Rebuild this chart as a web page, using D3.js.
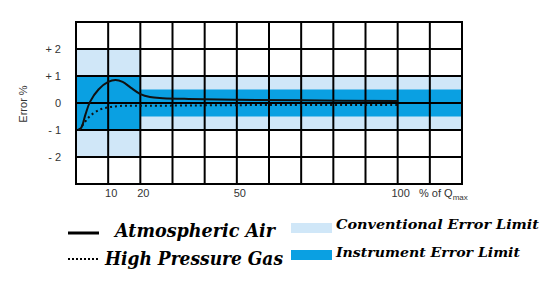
<!DOCTYPE html>
<html><head><meta charset="utf-8">
<script src="https://cdn.jsdelivr.net/npm/d3@7"></script>
<style>body{margin:0;background:#fff}svg{display:block}</style>
</head><body>
<svg id="c" width="550" height="288"></svg>
<script>
const xTicks = [10, 20, 50, 100];
const yTicks = [2, 1, 0, -1, -2];
const yTickLabels = ["+ 2", "+ 1", "0", "- 1", "- 2"];
const airX = [0.5, 1.6, 3, 4.4, 7, 10, 12.3, 14.5, 17, 20, 23, 27, 35, 50, 70, 100];
const airY = [-1, -0.92, -0.4, 0.05, 0.5, 0.78, 0.85, 0.78, 0.57, 0.33, 0.22, 0.18, 0.15, 0.12, 0.1, 0.07];
const gasX = [1, 2.8, 4.4, 7.5, 10.6, 13.7, 18, 25, 50, 100];
const gasY = [-1, -0.7, -0.48, -0.24, -0.15, -0.11, -0.1, -0.1, -0.08, -0.07];
// bands: [x0, x1, half-width]
const convBands = [[0, 20, 2], [20, 120, 1]];
const instBands = [[0, 20, 1], [20, 120, 0.5]];
const legendLines = ["Atmospheric Air", "High Pressure Gas"];
const legendBands = ["Conventional Error Limit", "Instrument Error Limit"];

const svg = d3.select("#c");
const x = d3.scaleLinear().domain([0, 120]).range([76, 462]);
const y = d3.scaleLinear().domain([-3, 3]).range([184, 22]);
const light = "#d0e7f8", dark = "#0aa0e2";

svg.selectAll("rect.conv").data(convBands).enter().append("rect")
  .attr("x", d => x(d[0])).attr("width", d => x(d[1]) - x(d[0]))
  .attr("y", d => y(d[2])).attr("height", d => y(-d[2]) - y(d[2])).attr("fill", light);
svg.selectAll("rect.inst").data(instBands).enter().append("rect")
  .attr("x", d => x(d[0])).attr("width", d => x(d[1]) - x(d[0]))
  .attr("y", d => y(d[2])).attr("height", d => y(-d[2]) - y(d[2])).attr("fill", dark);

// grid
const g = svg.append("g").attr("stroke", "#000").attr("stroke-width", 2);
g.selectAll("line.v").data(d3.range(0, 121, 10)).enter().append("line")
  .attr("x1", d => x(d)).attr("x2", d => x(d)).attr("y1", y(3)).attr("y2", y(-3));
g.selectAll("line.h").data(d3.range(-3, 4, 1)).enter().append("line")
  .attr("y1", d => y(d)).attr("y2", d => y(d)).attr("x1", x(0) - 1).attr("x2", x(120) + 1);

const line = d3.line().x(d => x(d[0])).y(d => y(d[1])).curve(d3.curveCatmullRom.alpha(0.5));
svg.append("path").datum(airX.map((v, i) => [v, airY[i]])).attr("d", line)
  .attr("fill", "none").attr("stroke", "#111").attr("stroke-width", 2);
svg.append("path").datum(gasX.map((v, i) => [v, gasY[i]])).attr("d", line)
  .attr("fill", "none").attr("stroke", "#111").attr("stroke-width", 2).attr("stroke-dasharray", "2,3");

// axis labels
svg.selectAll("text.yt").data(yTicks).enter().append("text")
  .attr("x", 61).attr("y", d => y(d) + 4).attr("text-anchor", "end")
  .attr("font-family", "Arial, Liberation Sans, sans-serif").attr("font-size", 11).attr("fill", "#333")
  .text((d, i) => yTickLabels[i]);
svg.selectAll("text.xt").data(xTicks).enter().append("text")
  .attr("x", d => x(d) + 3).attr("y", 197).attr("text-anchor", "middle")
  .attr("font-family", "Arial, Liberation Sans, sans-serif").attr("font-size", 11).attr("fill", "#333")
  .text(d => d);
const q = svg.append("text").attr("x", 419).attr("y", 197)
  .attr("font-family", "Arial, Liberation Sans, sans-serif").attr("font-size", 11).attr("fill", "#333");
q.append("tspan").text("% of Q");
q.append("tspan").attr("dy", 3).attr("font-size", 8).text("max");
svg.append("text").attr("transform", "translate(27,104) rotate(-90)").attr("text-anchor", "middle")
  .attr("font-family", "Arial, Liberation Sans, sans-serif").attr("font-size", 11).attr("fill", "#333")
  .text("Error %");

// legend
svg.append("line").attr("x1", 68).attr("x2", 99).attr("y1", 233).attr("y2", 233)
  .attr("stroke", "#000").attr("stroke-width", 3);
svg.append("line").attr("x1", 68).attr("x2", 98).attr("y1", 259).attr("y2", 259)
  .attr("stroke", "#000").attr("stroke-width", 2).attr("stroke-dasharray", "2,2");
const lf = "DejaVu Serif, serif";
svg.append("text").attr("x", 115).attr("y", 237).attr("font-family", lf).attr("font-style", "italic")
  .attr("font-weight", "bold").attr("font-size", 18).attr("textLength", 160).attr("lengthAdjust", "spacingAndGlyphs")
  .text(legendLines[0]);
svg.append("text").attr("x", 105).attr("y", 265).attr("font-family", lf).attr("font-style", "italic")
  .attr("font-weight", "bold").attr("font-size", 18).attr("textLength", 178).attr("lengthAdjust", "spacingAndGlyphs")
  .text(legendLines[1]);
svg.append("rect").attr("x", 291).attr("y", 223).attr("width", 41).attr("height", 10).attr("fill", light);
svg.append("rect").attr("x", 291).attr("y", 250).attr("width", 41).attr("height", 10).attr("fill", dark);
svg.append("text").attr("x", 336).attr("y", 229).attr("font-family", lf).attr("font-style", "italic")
  .attr("font-weight", "bold").attr("font-size", 13.5).attr("textLength", 203).attr("lengthAdjust", "spacingAndGlyphs")
  .text(legendBands[0]);
svg.append("text").attr("x", 336).attr("y", 257).attr("font-family", lf).attr("font-style", "italic")
  .attr("font-weight", "bold").attr("font-size", 13.5).attr("textLength", 184).attr("lengthAdjust", "spacingAndGlyphs")
  .text(legendBands[1]);
</script>
</body></html>
